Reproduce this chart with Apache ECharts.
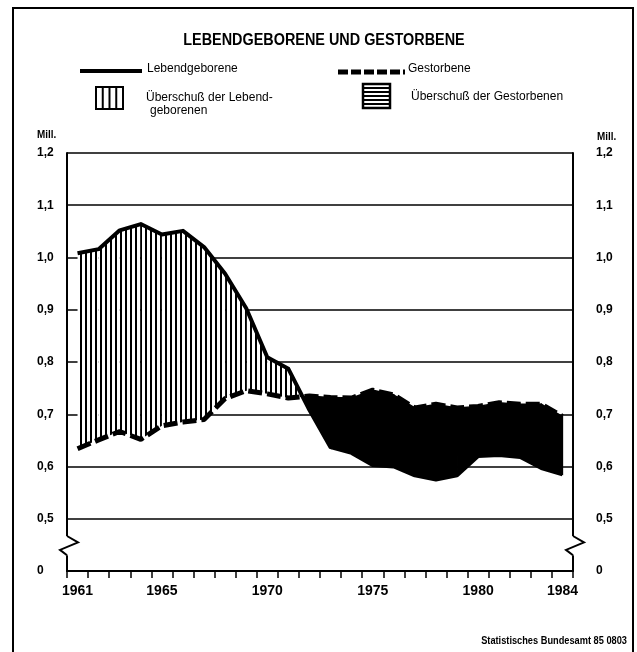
<!DOCTYPE html>
<html>
<head>
<meta charset="utf-8">
<title>Lebendgeborene und Gestorbene</title>
<script src="https://cdn.jsdelivr.net/npm/echarts@6/dist/echarts.min.js"></script>
<style>
  html, body { margin: 0; padding: 0; background: #fff; }
  #chart { width: 637px; height: 652px; }
</style>
</head>
<body>
<div id="chart"></div>
<script>
'use strict';

var years = ['1961', '1962', '1963', '1964', '1965', '1966', '1967', '1968', '1969', '1970', '1971', '1972',
             '1973', '1974', '1975', '1976', '1977', '1978', '1979', '1980', '1981', '1982', '1983', '1984'];
var shownYears = ['1961', '1965', '1970', '1975', '1980', '1984'];

// Mill.
var births = [1.008, 1.016, 1.052, 1.064, 1.044, 1.051, 1.020, 0.969, 0.903, 0.809, 0.787, 0.708,
              0.637, 0.626, 0.603, 0.600, 0.583, 0.575, 0.583, 0.620, 0.622, 0.618, 0.597, 0.585];
var deaths = [0.634, 0.651, 0.667, 0.652, 0.678, 0.685, 0.690, 0.730, 0.745, 0.739, 0.731, 0.735,
              0.732, 0.731, 0.746, 0.737, 0.712, 0.719, 0.712, 0.715, 0.722, 0.719, 0.719, 0.696];

// the axis is broken below 0,5: the bottom step is labelled 0
var yMin = 0.4, yMax = 1.2, yStep = 0.1;

var SANS = '"Liberation Sans", Arial, sans-serif';

var grid = { left: 67, right: 64, top: 153, bottom: 81 };
var chartWidth = 637;

var makePattern = function(w, h, draw) {
  var c = document.createElement('canvas');
  c.width = w;
  c.height = h;
  var ctx = c.getContext('2d');
  ctx.fillStyle = '#fff';
  ctx.fillRect(0, 0, w, h);
  ctx.fillStyle = '#000';
  draw(ctx);
  return { image: c, repeat: 'repeat' };
};

var vHatch = makePattern(5, 5, function(ctx) { ctx.fillRect(0, 0, 2, 5); });

var yLabel = function(v) {
  if (Math.abs(v - yMin) < 1e-6) {
    return '0';
  }
  return v.toFixed(1).replace('.', ',');
};

// one piece of the area between the two curves per year step, split where they cross
var renderExcess = function(params, api) {
  var i = api.value(0);
  var b0 = api.coord([i, births[i]]), b1 = api.coord([i + 1, births[i + 1]]);
  var g0 = api.coord([i, deaths[i]]), g1 = api.coord([i + 1, deaths[i + 1]]);
  var d0 = births[i] - deaths[i], d1 = births[i + 1] - deaths[i + 1];

  var poly = function(pts, d) {
    return {
      type: 'polygon',
      shape: { points: pts },
      style: d >= 0 ? { fill: vHatch } : { fill: '#000', stroke: '#000', lineWidth: 1.4 }
    };
  };

  var children = [];
  if (d0 * d1 >= 0) {
    children.push(poly([b0, b1, g1, g0], d0 + d1));
  } else {
    var t = d0 / (d0 - d1);
    var c = [b0[0] + (b1[0] - b0[0]) * t, b0[1] + (b1[1] - b0[1]) * t];
    children.push(poly([b0, c, g0], d0));
    children.push(poly([c, b1, g1], d1));
  }
  return { type: 'group', children: children };
};

var yAxisBase = function(position, margin, withGrid) {
  return {
    type: 'value',
    position: position,
    min: yMin,
    max: yMax,
    interval: yStep,
    axisLine: { show: true, lineStyle: { color: '#000', width: 2 } },
    axisTick: { show: false },
    splitLine: { show: withGrid, lineStyle: { color: '#000', width: 1.5 } },
    axisLabel: {
      align: 'left',
      margin: margin,
      color: '#000',
      fontFamily: SANS,
      fontWeight: 'bold',
      fontSize: 12,
      formatter: yLabel
    }
  };
};

var chart = echarts.init(document.getElementById('chart'), null, { renderer: 'canvas' });

chart.setOption({
  animation: false,
  backgroundColor: '#fff',
  grid: grid,
  xAxis: {
    type: 'category',
    data: years,
    boundaryGap: true,
    axisLine: { lineStyle: { color: '#000', width: 2 } },
    axisTick: { show: true, interval: 0, length: 7, lineStyle: { color: '#000', width: 1.5 } },
    splitLine: { show: false },
    axisLabel: {
      interval: function(index, value) { return shownYears.indexOf(value) >= 0; },
      margin: 13,
      color: '#000',
      fontFamily: SANS,
      fontWeight: 'bold',
      fontSize: 14
    }
  },
  yAxis: [yAxisBase('left', 30, true), yAxisBase('right', 23, false)],
  series: [
    {
      type: 'custom',
      renderItem: renderExcess,
      data: years.slice(0, -1).map(function(y, i) { return [i]; }),
      encode: { x: 0 },
      z: 1,
      silent: true
    },
    {
      name: 'Lebendgeborene',
      type: 'line',
      data: births,
      symbol: 'none',
      lineStyle: { color: '#000', width: 4, join: 'round' },
      z: 3
    },
    {
      name: 'Gestorbene',
      type: 'line',
      data: deaths,
      symbol: 'none',
      lineStyle: { color: '#000', width: 5, type: [14, 5], cap: 'butt' },
      z: 3
    }
  ]
});

// decoration: frame, title, legend, units, source and the axis breaks
var text = function(str, x, y, font, align, squeeze) {
  return {
    type: 'text',
    x: x,
    y: y,
    scaleX: squeeze || 1,
    style: { text: str, x: 0, y: 0, font: font, fill: '#000', align: align || 'left', verticalAlign: 'middle' }
  };
};

var rule = function(x1, y1, x2, y2, w) {
  return { type: 'line', shape: { x1: x1, y1: y1, x2: x2, y2: y2 }, style: { stroke: '#000', lineWidth: w || 2 } };
};

var axisBreak = function(x) {
  var yTop = chart.convertToPixel({ yAxisIndex: 0 }, 0.467);
  var yBot = chart.convertToPixel({ yAxisIndex: 0 }, 0.430);
  var h = yBot - yTop;
  return [
    { type: 'rect', shape: { x: x - 3, y: yTop, width: 6, height: h }, style: { fill: '#fff' }, z: 10 },
    {
      type: 'polyline',
      shape: { points: [[x, yTop], [x + 11, yTop + h * 0.33], [x - 7, yTop + h * 0.72], [x, yBot]] },
      style: { stroke: '#000', lineWidth: 2, fill: null },
      z: 11
    }
  ];
};

var xLeft = grid.left, xRight = chartWidth - grid.right;

var graphics = [
  { type: 'rect', shape: { x: 13, y: 8, width: 620, height: 670 }, style: { fill: null, stroke: '#000', lineWidth: 2 } },
  text('LEBENDGEBORENE UND GESTORBENE', 324, 41, 'bold 16px ' + SANS, 'center', 0.9),

  rule(80, 71, 142, 71, 4),
  text('Lebendgeborene', 147, 69, '12px ' + SANS),
  { type: 'line', shape: { x1: 338, y1: 72, x2: 405, y2: 72 }, style: { stroke: '#000', lineWidth: 5, lineDash: [10, 3] } },
  text('Gestorbene', 408, 69, '12px ' + SANS),

  { type: 'rect', shape: { x: 96, y: 87, width: 27, height: 22 }, style: { fill: '#fff', stroke: '#000', lineWidth: 2 } },
  rule(102.75, 87, 102.75, 109),
  rule(109.5, 87, 109.5, 109),
  rule(116.25, 87, 116.25, 109),
  text('Überschuß der Lebend-', 146, 98, '12px ' + SANS),
  text('geborenen', 150, 111, '12px ' + SANS),

  { type: 'rect', shape: { x: 363, y: 84, width: 27, height: 24 }, style: { fill: '#fff', stroke: '#000', lineWidth: 2.5 } },
  rule(363, 88, 390, 88),
  rule(363, 92, 390, 92),
  rule(363, 96, 390, 96),
  rule(363, 100, 390, 100),
  rule(363, 104, 390, 104),
  text('Überschuß der Gestorbenen', 411, 97, '12px ' + SANS),

  text('Mill.', 37, 135, 'bold 11px ' + SANS, 'left', 0.9),
  text('Mill.', 597, 137, 'bold 11px ' + SANS, 'left', 0.9),
  text('Statistisches Bundesamt 85 0803', 627, 641, 'bold 11px ' + SANS, 'right', 0.84)
].concat(axisBreak(xLeft), axisBreak(xRight));

chart.setOption({ graphic: graphics });
</script>
</body>
</html>
